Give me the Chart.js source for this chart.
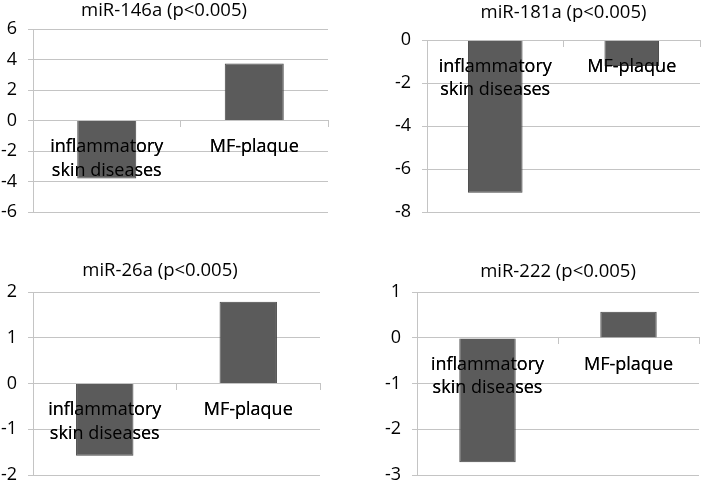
<!DOCTYPE html>
<html>
<head>
<meta charset="utf-8">
<script src="https://cdn.jsdelivr.net/npm/chart.js@4/dist/chart.umd.min.js"></script>
<style>
  body { margin: 0; background: #fff; }
  #wrap { position: relative; width: 702px; height: 483px; overflow: hidden; }
  canvas { position: absolute; }
</style>
</head>
<body>
<div id="wrap">
  <canvas id="c0"></canvas>
  <canvas id="c1"></canvas>
  <canvas id="c2"></canvas>
  <canvas id="c3"></canvas>
</div>
<script>
// chart data
const categories = [["inflammatory", "skin diseases"], "MF-plaque"];
const panelTitles = ["miR-146a (p<0.005)", "miR-181a (p<0.005)", "miR-26a (p<0.005)", "miR-222 (p<0.005)"];
const mir146a = [-3.8, 3.75];
const mir181a = [-7.1, -1.2];
const mir26a = [-1.58, 1.79];
const mir222 = [-2.72, 0.57];
const yMin = [-6, -8, -2, -3];
const yMax = [6, 0, 2, 1];
const yStep = [2, 2, 1, 1];

const seriesList = [mir146a, mir181a, mir26a, mir222];

// where each small chart sits on the page
const boxes = [
    { left: 0,   top: 0,   w: 345, h: 240, axisW: 33, padR: 17, padB: 28, tTop: 0,  tBot: 7,  full: true },
    { left: 350, top: 0,   w: 352, h: 240, axisW: 77, padR: 2,  padB: 28, tTop: 2,  tBot: 16, full: false },
    { left: 0,   top: 240, w: 345, h: 243, axisW: 33, padR: 25, padB: 8,  tTop: 20, tBot: 10, full: true },
    { left: 350, top: 240, w: 352, h: 243, axisW: 67, padR: 3,  padB: 8,  tTop: 21, tBot: 9,  full: false }
];

const fontFamily = "'Open Sans', sans-serif";
const gridColor = "#c4c4c4";

// category labels sit on top of the bars, like in the original
const labelsOnTop = {
    id: "labelsOnTop",
    afterDatasetsDraw(chart) {
        chart.scales.x.drawLabels(chart.chartArea);
    }
};

function makePanel(i) {
    const b = boxes[i];
    const canvas = document.getElementById("c" + i);
    canvas.width = b.w;
    canvas.height = b.h;
    canvas.style.left = b.left + "px";
    canvas.style.top = b.top + "px";

    new Chart(canvas.getContext("2d"), {
        type: "bar",
        data: {
            labels: categories,
            datasets: [{
                data: seriesList[i],
                backgroundColor: "#5b5b5b",
                borderColor: "#474747",
                borderWidth: 1,
                barPercentage: 0.4,
                categoryPercentage: 1
            }]
        },
        options: {
            responsive: false,
            animation: false,
            layout: { padding: { left: 0, top: 0, right: b.padR, bottom: b.padB } },
            plugins: {
                legend: { display: false },
                tooltip: { enabled: false },
                title: {
                    display: true,
                    text: panelTitles[i],
                    fullSize: b.full,
                    color: "#000",
                    font: { family: fontFamily, size: 18.5, weight: "normal", lineHeight: 1.2 },
                    padding: { top: b.tTop, bottom: b.tBot }
                }
            },
            scales: {
                x: {
                    position: { y: 0 },
                    offset: true,
                    grid: { display: true, drawOnChartArea: false, drawTicks: true, tickLength: 6, color: gridColor, offset: true },
                    border: { display: true, color: gridColor },
                    ticks: {
                        autoSkip: false,
                        maxRotation: 0,
                        minRotation: 0,
                        padding: 9,
                        color: "#000",
                        font: { family: fontFamily, size: 18, lineHeight: 1.3 }
                    }
                },
                y: {
                    min: yMin[i],
                    max: yMax[i],
                    grid: { color: gridColor, tickLength: 5 },
                    border: { display: true, color: gridColor },
                    ticks: {
                        stepSize: yStep[i],
                        padding: 11,
                        color: "#000",
                        font: { family: fontFamily, size: 18, lineHeight: 1.2 }
                    },
                    afterFit: function (scale) {
                        scale.width = b.axisW;
                        scale.paddingTop = 0;
                        scale.paddingBottom = 0;
                    }
                }
            }
        },
        plugins: [labelsOnTop]
    });
}

for (let i = 0; i < 4; i++) {
    makePanel(i);
}
</script>
</body>
</html>
